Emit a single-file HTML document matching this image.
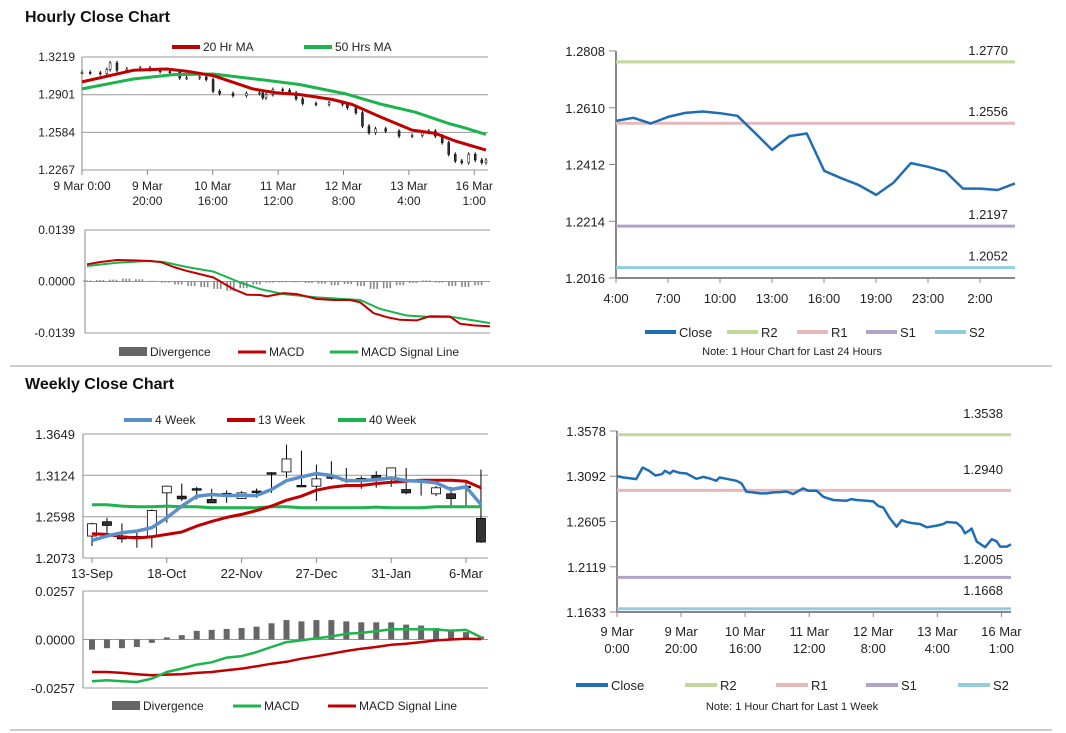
<!DOCTYPE html>
<html><head><meta charset="utf-8">
<style>
html,body{margin:0;padding:0;background:#fff;}
svg{display:block;font-family:"Liberation Sans",Arial,sans-serif;}
text{fill:#222;font-size:12px;}
.ttl{font-weight:bold;font-size:16px;fill:#111;}
</style></head>
<body>
<svg id="root" width="1066" height="733" viewBox="0 0 1066 733" xmlns="http://www.w3.org/2000/svg">
<text class="ttl" x="25" y="22">Hourly Close Chart</text>
<text class="ttl" x="25" y="389">Weekly Close Chart</text>
<line x1="10" y1="366" x2="1052" y2="366" stroke="#999" stroke-width="1"/>
<line x1="10" y1="730" x2="1052" y2="730" stroke="#999" stroke-width="1"/>
<g id="layer"></g>
</svg>
<script>
// ---------- Hourly candle chart data ----------
const hIdx = [0,2.5,5.6,7.6,8.6,10.7,13.7,17.8,20.8,23.9,26.9,29.9,32,36,38,40.1,42.1,46.2,50.3,54.3,55.3,56.3,58.4,61.4,63.5,65.5,67.5,71.6,75.6,79.7,81.2,83.8,85.8,87.8,89.8,92.9,97,101,104.1,106.1,108.1,110.2,112.2,114.2,116.2,118.3,120.3,122.3,123.6];
const hClose = [1.3090,1.3085,1.3079,1.3113,1.3169,1.3107,1.3118,1.3127,1.3113,1.3096,1.3090,1.3043,1.3043,1.3051,1.3029,1.2931,1.2911,1.2894,1.2911,1.2917,1.2875,1.2903,1.2945,1.2939,1.2917,1.2866,1.2827,1.2819,1.2833,1.2819,1.2791,1.2749,1.2637,1.2581,1.2614,1.2595,1.2553,1.2558,1.2586,1.2595,1.2553,1.2497,1.2399,1.2343,1.2329,1.2399,1.2351,1.2329,1.2351];
const ma20Idx = [0,15.7,25.9,32,40.1,52.3,59.4,66.5,76.6,82.7,91.9,101,108.1,114.2,123.6];
const ma20Val = [1.3009,1.3107,1.3118,1.3099,1.3062,1.2950,1.2917,1.2903,1.2861,1.2819,1.2707,1.2603,1.2575,1.2511,1.2435];
const ma50Idx = [0,15.7,27.9,40.1,56.3,66.5,80.7,91.9,102,112.2,117.3,123.6];
const ma50Val = [1.2950,1.3034,1.3071,1.3076,1.3023,1.2987,1.2908,1.2819,1.2754,1.2659,1.2620,1.2567];
const hTicks = [1.3219,1.2901,1.2584,1.2267];
const hXLabels = [["9 Mar 0:00"],["9 Mar","20:00"],["10 Mar","16:00"],["11 Mar","12:00"],["12 Mar","8:00"],["13 Mar","4:00"],["16 Mar","1:00"]];
// ---------- Hourly MACD ----------
const hMacdIdx = [0,4.1,9.2,14.3,19.4,22.5,26.6,30.6,38.8,44.9,49,53.1,55.2,60.3,64.4,70.5,75.6,80.7,83.8,87.9,91.9,96,101.1,105.2,111.3,114.4,118.5,123.6];
const hMacdVal = [0.00463,0.00526,0.00579,0.0057,0.00552,0.00526,0.00392,0.00285,0.00107,-0.00205,-0.00356,-0.00365,-0.00401,-0.00312,-0.00339,-0.00472,-0.00499,-0.00499,-0.00561,-0.00855,-0.00962,-0.01034,-0.01051,-0.00936,-0.00944,-0.0114,-0.01185,-0.01212];
const hSigIdx = [0,9.2,18.4,23.5,30.6,38.8,47,53.1,60.3,70.5,83.8,89.9,98,106.2,112.3,118.5,123.6];
const hSigVal = [0.00419,0.00508,0.00552,0.00526,0.00392,0.00267,-0.00027,-0.00205,-0.00339,-0.00428,-0.00499,-0.0074,-0.00918,-0.00962,-0.00962,-0.01051,-0.01123];
const hDivVal = [0.0003,0.0004,0.0005,0.0008,0.0006,0.0002,-0.0003,-0.0008,-0.0012,-0.0015,-0.0020,-0.0025,-0.0018,-0.0008,-0.0003,-0.0002,-0.0002,-0.0004,-0.0006,-0.0010,-0.0007,-0.0012,-0.0020,-0.0018,-0.0010,-0.0004,0.0003,-0.0003,-0.0012,-0.0015,-0.0010];
const hMacdTicks = [0.0139,0,-0.0139];
// ---------- 24h close ----------
const dClose = [1.2564,1.2575,1.2555,1.2578,1.2592,1.2597,1.2591,1.2582,1.2523,1.2463,1.2511,1.2520,1.2390,1.2364,1.2340,1.2306,1.2349,1.2417,1.2404,1.2387,1.2328,1.2328,1.2323,1.2346];
const dTicks = [1.2808,1.2610,1.2412,1.2214,1.2016];
const dXLabels = ["4:00","7:00","10:00","13:00","16:00","19:00","23:00","2:00"];
const dLevels = [1.2770,1.2556,1.2197,1.2052];
// ---------- Weekly candles ----------
const wOpen  = [1.2352,1.2534,1.2335,1.2347,1.2352,1.2901,1.2859,1.2954,1.2817,1.2895,1.2829,1.2924,1.3157,1.3167,1.2996,1.2986,1.3106,1.3072,1.3085,1.3121,1.3104,1.2943,1.3072,1.2889,1.2889,1.2986,1.2576];
const wClose = [1.2508,1.2487,1.2331,1.2343,1.2677,1.2986,1.2825,1.2950,1.2774,1.2891,1.2901,1.2920,1.3153,1.3332,1.2992,1.3079,1.3102,1.3068,1.3081,1.3079,1.3218,1.2901,1.3068,1.2965,1.2829,1.2982,1.2276];
const wHigh  = [1.2521,1.2584,1.2512,1.2394,1.2690,1.2994,1.3019,1.2977,1.2952,1.2931,1.2922,1.2956,1.3163,1.3514,1.3438,1.3260,1.3303,1.3218,1.3112,1.3176,1.3218,1.3218,1.3070,1.2986,1.2977,1.3028,1.3197];
const wLow   = [1.2225,1.2394,1.2267,1.2204,1.2204,1.2521,1.2796,1.2817,1.2774,1.2774,1.2825,1.2838,1.2901,1.3091,1.2977,1.2796,1.3070,1.3028,1.2952,1.2965,1.2977,1.2880,1.2867,1.2859,1.2741,1.2741,1.2267];
const w4 = [1.2297,1.2352,1.2394,1.2415,1.2458,1.2584,1.2732,1.2859,1.2880,1.2867,1.2867,1.2867,1.2943,1.3057,1.3104,1.3146,1.3121,1.3057,1.3057,1.3070,1.3091,1.3057,1.3049,1.3028,1.2943,1.2977,1.2753];
const w13 = [1.2381,1.2373,1.2343,1.2327,1.2343,1.2373,1.2403,1.2479,1.2538,1.2589,1.2627,1.2677,1.2732,1.2808,1.2859,1.2935,1.2973,1.2994,1.2994,1.3019,1.3036,1.3049,1.3062,1.3062,1.3062,1.3049,1.2965];
const w40 = [1.2749,1.2749,1.2732,1.2724,1.2724,1.2732,1.2724,1.2724,1.2711,1.2711,1.2711,1.2711,1.2724,1.2724,1.2711,1.2711,1.2711,1.2711,1.2711,1.2720,1.2711,1.2711,1.2711,1.2724,1.2724,1.2724,1.2724];
const wTicks = [1.3649,1.3124,1.2598,1.2073];
const wXLabels = ["13-Sep","18-Oct","22-Nov","27-Dec","31-Jan","6-Mar"];
// ---------- Weekly MACD ----------
const wDiv = [-0.0054,-0.0046,-0.0046,-0.0040,-0.0018,0.0011,0.0023,0.0046,0.0051,0.0056,0.0061,0.0068,0.0086,0.0103,0.0096,0.0103,0.0103,0.0096,0.0091,0.0091,0.0091,0.0079,0.0074,0.0061,0.0051,0.0039,0.0016];
const wMacd = [-0.0221,-0.0216,-0.0221,-0.0225,-0.0207,-0.0172,-0.0154,-0.0133,-0.0121,-0.0096,-0.0088,-0.0067,-0.0040,-0.0014,-0.0005,0.0007,0.0016,0.0030,0.0035,0.0044,0.0054,0.0054,0.0054,0.0053,0.0047,0.0051,0.0012];
const wSig = [-0.0172,-0.0172,-0.0177,-0.0184,-0.0189,-0.0186,-0.0184,-0.0177,-0.0172,-0.0163,-0.0154,-0.0142,-0.0128,-0.0118,-0.0102,-0.0089,-0.0075,-0.0061,-0.0049,-0.0040,-0.0028,-0.0023,-0.0014,-0.0005,0,0.0004,0.0002];
const wMacdTicks = [0.0257,0,-0.0257];
// ---------- Weekly (1 week hourly) close ----------
const kIdx = [0,2,4,6,8,10,12,14,15,16.5,17.5,19.6,21.7,24.8,26.9,29,31,32,34.2,37.3,38.9,40.4,42.5,44.6,46.7,48.8,50.8,52.9,55,56.6,58.1,59.7,62.3,64.4,67.5,71.7,73.2,74.8,77.9,80,81.6,83.1,85.2,87.3,88.9,90.4,92.5,94.6,96.7,99.8,101.9,102.9,106,107.6,108.6,110.2,110.7,112.3,114.9,117,118.5,119.6,121.7,123];
const kClose = [1.3093,1.3078,1.3071,1.3061,1.3185,1.3150,1.3100,1.3114,1.3150,1.3121,1.3150,1.3128,1.3121,1.3064,1.3085,1.3068,1.3043,1.3078,1.3064,1.3043,1.3014,1.2925,1.2918,1.2907,1.2907,1.2918,1.2921,1.2928,1.2900,1.2932,1.2961,1.2936,1.2936,1.2871,1.2836,1.2829,1.2846,1.2836,1.2829,1.2821,1.2771,1.2757,1.2639,1.2550,1.2621,1.2600,1.2586,1.2579,1.2543,1.2561,1.2579,1.2600,1.2593,1.2543,1.2479,1.2514,1.2529,1.2390,1.2329,1.2415,1.2393,1.2336,1.2336,1.2361];
const kTicks = [1.3578,1.3092,1.2605,1.2119,1.1633];
const kXLabels = [["9 Mar","0:00"],["9 Mar","20:00"],["10 Mar","16:00"],["11 Mar","12:00"],["12 Mar","8:00"],["13 Mar","4:00"],["16 Mar","1:00"]];
const kLevels = [1.3538,1.2940,1.2005,1.1668];

const NS="http://www.w3.org/2000/svg";
const L=document.getElementById('layer');
function mk(tag,attrs,parent){const e=document.createElementNS(NS,tag);for(const k in attrs)e.setAttribute(k,attrs[k]);(parent||L).appendChild(e);return e;}
function lin(d0,d1,r0,r1){return v=>r0+(v-d0)*(r1-r0)/(d1-d0);}
function path(xs,ys,xf,yf,color,w,name){
  let d='';for(let i=0;i<xs.length;i++)d+=(i?'L':'M')+xf(xs[i]).toFixed(1)+','+yf(ys[i]).toFixed(1);
  const p=mk('path',{d:d,fill:'none',stroke:color,'stroke-width':w,'stroke-linejoin':'round'});
  
  
  return p;}
function txt(x,y,s,anchor,name,size){const t=mk('text',{x:x,y:y,'text-anchor':anchor||'start'});if(size)t.style.fontSize=size+'px';t.textContent=s;
  
  
  return t;}
function hline(x1,x2,y,c,w,name){const l=mk('line',{x1:x1,x2:x2,y1:y,y2:y,stroke:c,'stroke-width':w});
  
  
  return l;}
function vline(x,y1,y2,c,w,name){const l=mk('line',{x1:x,x2:x,y1:y1,y2:y2,stroke:c,'stroke-width':w});
  
  
  return l;}
function legendLine(x,y,c,label,name,box){
  if(box){const r=mk('rect',{x:x,y:y-5,width:28,height:9,fill:'#666'});
    
    }
  else hline(x,x+28,y,c,box===0?4:3,name+'-swatch');
  txt(x+31,y+4,label,'start',name);
}
const GRID='#999';

// ===== Panel 1: hourly price =====
{const X0=82,X1=488,xf=lin(0,123.6,82,486),yf=lin(1.3219,1.2267,57,170);
 hTicks.forEach((v,i)=>{hline(X0,X1,yf(v),GRID,1,'h-gridline');txt(75,yf(v)+4,v.toFixed(4),'end','h-y-tick');});
 vline(X0,57,175,'#888',1,'h-y-axis');
 hXLabels.forEach((lab,i)=>{const x=xf(i*20);vline(x,170,175,'#888',1,'h-x-tick');lab.forEach((s,j)=>txt(x,190+j*15,s,'middle','h-x-label'));});
 for(let i=0;i<hIdx.length;i++){const x=xf(hIdx[i]);const o=i?hClose[i-1]:hClose[i],c=hClose[i];
   vline(x,yf(Math.max(o,c))-2,yf(Math.min(o,c))+2,'#000',1,'h-candle-wick');
   const r=mk('rect',{x:x-1,y:Math.min(yf(o),yf(c)),width:2,height:Math.max(1,Math.abs(yf(o)-yf(c))),fill:c<o?'#333':'#fff',stroke:'#000','stroke-width':0.5});
   
   }
 path(ma50Idx,ma50Val,xf,yf,'#1db34d',3,'ma50-line');
 path(ma20Idx,ma20Val,xf,yf,'#c00000',3,'ma20-line');
 legendLine(172,47,'#c00000','20 Hr MA','legend-20hr-ma',0);
 legendLine(304,47,'#1db34d','50 Hrs MA','legend-50hr-ma',0);
}
// ===== Panel 2: hourly MACD =====
{const X0=85,X1=490,xf=lin(0,123.6,87,490),yf=lin(0.0139,-0.0139,230,333);
 hMacdTicks.forEach(v=>{hline(X0,X1,yf(v),GRID,1,'hm-gridline');txt(75,yf(v)+4,v.toFixed(4),'end','hm-y-tick');});
 vline(X0,230,333,'#888',1,'hm-y-axis');
 hDivVal.forEach((v,i)=>{const x=xf(i*4),y0=yf(0),y=yf(v);
   for(let k=-1;k<=1;k++){const b=mk('rect',{x:x+k*3.3-0.8,y:Math.min(y0,y),width:1.6,height:Math.max(0.8,Math.abs(y-y0)),fill:'#888'});
   
   }});
 path(hSigIdx,hSigVal,xf,yf,'#1db34d',2,'hm-signal-line');
 path(hMacdIdx,hMacdVal,xf,yf,'#c00000',2,'hm-macd-line');
 legendLine(119,352,'#666','Divergence','legend-hm-divergence',1);
 legendLine(238,352,'#c00000','MACD','legend-hm-macd');
 legendLine(330,352,'#1db34d','MACD Signal Line','legend-hm-signal');
}
// ===== Panel 3: 24h close =====
{const X0=616,X1=1015,xf=lin(0,23,616,1015),yf=lin(1.2808,1.2016,51,278);
 dTicks.forEach(v=>{hline(609,616,yf(v),'#888',1,'d-y-tickmark');txt(605,yf(v)+5,v.toFixed(4),'end','d-y-tick',13);});
 vline(X0,51,278,'#888',2,'d-y-axis');hline(X0,X1,278,'#888',2,'d-x-axis');
 dXLabels.forEach((s,i)=>{const x=X0+i*52;vline(x,278,283,'#888',1,'d-x-tick');txt(x,303,s,'middle','d-x-label',13);});
 const cols=['#c3d69b','#e6b9b8','#b3a2c7','#93cddd'],names=['r2','r1','s1','s2'];
 dLevels.forEach((v,i)=>{hline(X0,X1,yf(v),cols[i],3,'d-level-'+names[i]);txt(1008,yf(v)-7,v.toFixed(4),'end','d-level-label-'+names[i],13);});
 path(dClose.map((v,i)=>i),dClose,xf,yf,'#1f6eb5',2.5,'d-close-line');
 const lx=[645,727,797,866,935],lc=['#1f6eb5'].concat(cols),ll=['Close','R2','R1','S1','S2'];
 lx.forEach((x,i)=>{hline(x,x+31,332,lc[i],4,'legend-d-'+ll[i].toLowerCase()+'-swatch');txt(x+34,337,ll[i],'start','legend-d-'+ll[i].toLowerCase(),13);});
 txt(792,355,'Note: 1 Hour Chart for Last 24 Hours','middle','d-note',11);
}
// ===== Panel 4: weekly candles =====
{const X0=83,X1=488,xf=lin(0,25,92,466),yf=lin(1.3649,1.2073,434,558);
 wTicks.forEach(v=>{hline(X0,X1,yf(v),GRID,1,'w-gridline');txt(75,yf(v)+5,v.toFixed(4),'end','w-y-tick',13);});
 vline(X0,434,558,'#888',1,'w-y-axis');
 wXLabels.forEach((s,i)=>{const x=xf(i*5);vline(x,558,563,'#888',1,'w-x-tick');txt(x,578,s,'middle','w-x-label',13);});
 for(let i=0;i<wOpen.length;i++){const x=xf(i);vline(x,yf(wHigh[i]),yf(wLow[i]),'#000',1,'w-candle-wick');
   const o=wOpen[i],c=wClose[i];
   const r=mk('rect',{x:x-4.5,y:Math.min(yf(o),yf(c)),width:9,height:Math.max(1.5,Math.abs(yf(o)-yf(c))),fill:c<o?'#333':'#fff',stroke:'#000','stroke-width':0.8});
   
   }
 const ix=w4.map((v,i)=>i);
 path(ix,w40,xf,yf,'#1db34d',3,'w40-line');
 path(ix,w13,xf,yf,'#c00000',3,'w13-line');
 path(ix,w4,xf,yf,'#5b8fc9',3.5,'w4-line');
 legendLine(124,420,'#5b8fc9','4 Week','legend-4-week',0);
 legendLine(227,420,'#c00000','13 Week','legend-13-week',0);
 legendLine(338,420,'#1db34d','40 Week','legend-40-week',0);
}
// ===== Panel 5: weekly MACD =====
{const X0=83,X1=488,xf=lin(0,25,92,466),yf=lin(0.0257,-0.0257,591,688);
 wMacdTicks.forEach(v=>{hline(X0,X1,yf(v),GRID,1,'wm-gridline');txt(75,yf(v)+5,v.toFixed(4),'end','wm-y-tick',13);});
 vline(X0,591,688,'#888',1,'wm-y-axis');
 wDiv.forEach((v,i)=>{const x=xf(i),y0=yf(0),y=yf(v);
   const b=mk('rect',{x:x-3,y:Math.min(y0,y),width:6,height:Math.max(1,Math.abs(y-y0)),fill:'#666'});
   
   });
 const ix=wMacd.map((v,i)=>i);
 path(ix,wSig,xf,yf,'#c00000',2.5,'wm-signal-line');
 path(ix,wMacd,xf,yf,'#1db34d',2.5,'wm-macd-line');
 legendLine(112,706,'#666','Divergence','legend-wm-divergence',1);
 legendLine(233,706,'#1db34d','MACD','legend-wm-macd');
 legendLine(328,706,'#c00000','MACD Signal Line','legend-wm-signal');
}
// ===== Panel 6: 1-week close =====
{const X0=617,X1=1011,xf=lin(0,123,617,1011),yf=lin(1.3578,1.1633,431,612);
 kTicks.forEach(v=>{hline(610,617,yf(v),'#888',1,'k-y-tickmark');txt(606,yf(v)+5,v.toFixed(4),'end','k-y-tick',13);});
 vline(X0,431,612,'#888',2,'k-y-axis');hline(X0,X1,612,'#888',2,'k-x-axis');
 kXLabels.forEach((lab,i)=>{const x=xf(i*20);vline(x,612,617,'#888',1,'k-x-tick');lab.forEach((s,j)=>txt(x,636+j*17,s,'middle','k-x-label',13));});
 const cols=['#c3d69b','#e6b9b8','#b3a2c7','#93cddd'],names=['r2','r1','s1','s2'],ly=[418,474,564,595];
 kLevels.forEach((v,i)=>{hline(X0,X1,yf(v),cols[i],3,'k-level-'+names[i]);txt(1003,ly[i],v.toFixed(4),'end','k-level-label-'+names[i],13);});
 path(kIdx,kClose,xf,yf,'#1f6eb5',2.5,'k-close-line');
 const lx=[576,685,776,866,958],lc=['#1f6eb5'].concat(cols),ll=['Close','R2','R1','S1','S2'];
 lx.forEach((x,i)=>{hline(x,x+32,685,lc[i],4,'legend-k-'+ll[i].toLowerCase()+'-swatch');txt(x+35,690,ll[i],'start','legend-k-'+ll[i].toLowerCase(),13);});
 txt(792,710,'Note: 1 Hour Chart for Last 1 Week','middle','k-note',11);
}
</script>
</body></html>
